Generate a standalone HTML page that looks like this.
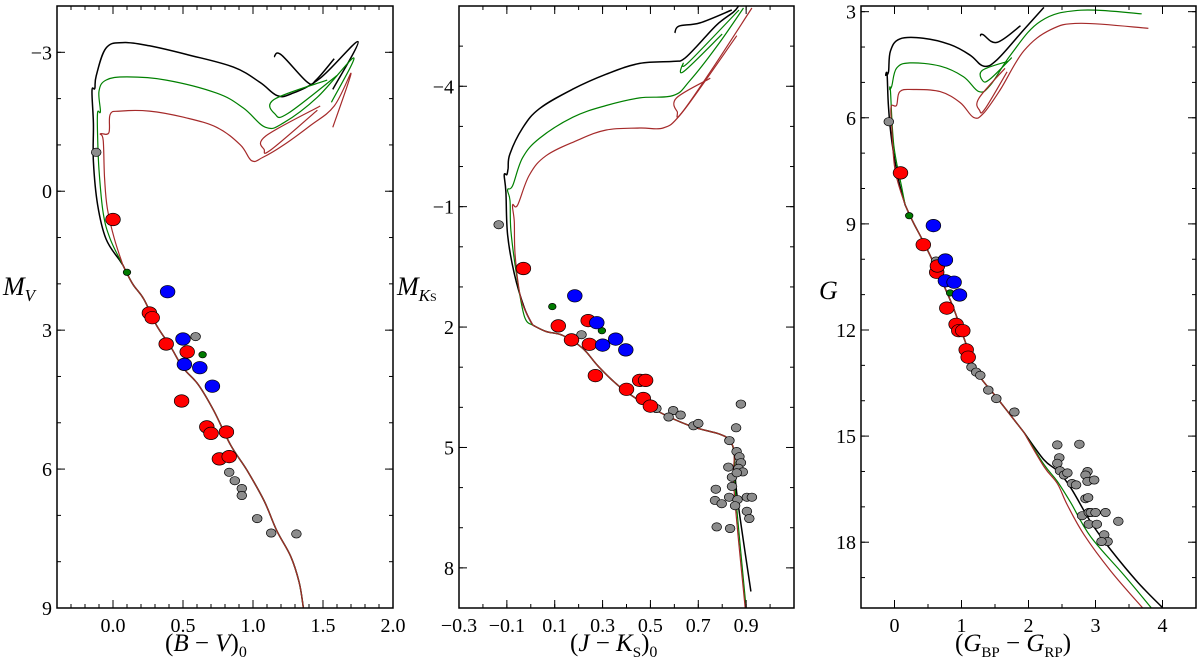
<!DOCTYPE html>
<html><head><meta charset="utf-8"><style>
html,body{margin:0;padding:0;background:#fff;}
svg{display:block;font-family:"Liberation Serif",serif;}
</style></head><body>
<svg id="chart" width="1200" height="669" viewBox="0 0 1200 669" xmlns="http://www.w3.org/2000/svg"></svg>
<script>
// ---------- Panel 1: (B-V)0 vs MV ----------
const p1Red=[[0,0.61],[0.26,2.63],[0.28,2.73],[0.38,3.30],[0.53,3.47],[0.49,4.53],[0.67,5.09],[0.70,5.23],[0.81,5.20],[0.76,5.78],[0.83,5.73]];
const p1Blue=[[0.39,2.17],[0.50,3.19],[0.51,3.74],[0.62,3.81],[0.71,4.21]];
const p1Green=[[0.10,1.75],[0.64,3.53]];
const p1Gray=[[-0.12,-0.84],[0.59,3.14],[0.83,6.07],[0.87,6.25],[0.92,6.42],[0.92,6.57],[1.03,7.07],[1.13,7.38],[1.31,7.40]];
const p1MS=[[1.36,9.0],[1.33,8.45],[1.27,7.89],[1.17,7.33],[1.08,6.69],[0.96,6.04],[0.84,5.48],[0.72,4.74],[0.61,4.18],[0.50,3.81],[0.41,3.35],[0.31,2.89],[0.22,2.33],[0.14,2.00],[0.07,1.59]];
const p1IsoBlack=[[0.07,1.59],[0.05,1.5],[-0.05,1.03],[-0.11,0.29],[-0.14,-0.64],[-0.14,-1.47],[-0.15,-2.17],[-0.13,-2.22],[-0.12,-2.49],[-0.05,-3.09],[0.07,-3.21],[0.26,-3.14],[0.53,-2.95],[0.86,-2.68],[1.05,-2.35],[1.17,-2.07],[1.27,-2.1],[1.48,-2.44],[1.75,-3.23],[1.57,-2.2]];
const p1LoopBlack=[[1.15,-2.9],[1.2,-2.95],[1.39,-2.35],[1.45,-2.4],[1.58,-2.86]];
const p1IsoGreen=[[0.07,1.59],[-0.02,1.03],[-0.07,0.47],[-0.10,-0.46],[-0.11,-1.2],[-0.11,-1.7],[-0.09,-1.72],[-0.1,-2.16],[-0.05,-2.4],[0.1,-2.47],[0.38,-2.4],[0.74,-2.12],[0.93,-1.8],[1.09,-1.38],[1.22,-1.48],[1.46,-2.03],[1.72,-2.88],[1.56,-1.92]];
const p1LoopGreen=[[1.53,-2.4],[1.15,-1.98],[1.16,-1.66],[1.25,-1.68],[1.60,-2.5]];
const p1IsoRed=[[0.07,1.59],[0.01,1.03],[-0.04,0.38],[-0.06,-0.27],[-0.07,-1.1],[-0.09,-1.24],[-0.03,-1.26],[-0.02,-1.66],[0.05,-1.73],[0.26,-1.73],[0.5,-1.6],[0.74,-1.38],[0.91,-1.0],[0.99,-0.66],[1.07,-0.73],[1.22,-1.0],[1.41,-1.42],[1.58,-1.84],[1.70,-2.54],[1.57,-1.38]];
const p1LoopRed=[[1.48,-1.84],[1.09,-1.19],[1.08,-0.9],[1.13,-0.9],[1.46,-1.75]];
// ---------- Panel 2: (J-Ks)0 vs MKs ----------
const p2Red=[[-0.031,0.54],[0.115,1.97],[0.17,2.32],[0.24,1.84],[0.245,2.43],[0.27,3.21],[0.40,3.55],[0.455,3.33],[0.48,3.33],[0.47,3.78],[0.50,3.97]];
const p2Blue=[[0.184,1.22],[0.276,1.89],[0.30,2.45],[0.355,2.30],[0.397,2.57]];
const p2Green=[[0.09,1.49],[0.297,2.09]];
const p2Gray=[[-0.134,-0.55],[0.212,2.19],[0.525,4.03],[0.595,4.08],[0.626,4.19],[0.576,4.24],[0.68,4.46],[0.70,4.40],[0.878,3.92],[0.858,4.51],[0.83,4.83],[0.86,5.10],[0.872,5.23],[0.878,5.38],[0.868,5.52],[0.826,5.49],[0.886,5.61],[0.841,5.74],[0.861,5.63],[0.841,5.97],[0.773,6.04],[0.77,6.32],[0.798,6.40],[0.829,6.24],[0.864,6.30],[0.854,6.45],[0.903,6.24],[0.924,6.24],[0.903,6.59],[0.913,6.77],[0.777,6.98],[0.833,7.02]];
const p2MSBlack=[[0.92,8.59],[0.86,6.11],[0.85,5.15],[0.83,4.83],[0.79,4.67],[0.665,4.46],[0.525,4.08],[0.385,3.55],[0.287,3.01],[0.217,2.53],[0.134,2.21],[0.064,2.11],[0.008,1.95]];
const p2MSGreen=[[0.90,9.0],[0.855,6.11],[0.85,5.15],[0.83,4.83],[0.79,4.67],[0.665,4.46],[0.525,4.08],[0.385,3.55],[0.287,3.01],[0.217,2.53],[0.134,2.21],[0.064,2.11],[0.008,1.95]];
const p2MSRed=[[0.896,9.0],[0.85,6.11],[0.85,5.15],[0.83,4.83],[0.79,4.67],[0.665,4.46],[0.525,4.08],[0.385,3.55],[0.287,3.01],[0.217,2.53],[0.134,2.21],[0.064,2.11],[0.008,1.95]];
const p2IsoBlack=[[0.008,1.95],[-0.027,1.52],[-0.069,0.67],[-0.097,-0.30],[-0.104,-1.36],[-0.111,-1.79],[-0.1,-1.8],[-0.095,-1.95],[-0.087,-2.32],[-0.034,-2.96],[0.036,-3.44],[0.176,-3.93],[0.315,-4.30],[0.455,-4.57],[0.595,-4.62],[0.637,-4.67],[0.693,-4.99],[0.777,-5.53],[0.847,-5.85],[0.868,-6.0]];
const p2LoopBlack=[[0.602,-5.33],[0.62,-5.5],[0.707,-5.58],[0.84,-5.9]];
const p2IsoGreen=[[0.008,1.95],[-0.027,1.73],[-0.06,0.67],[-0.083,-0.40],[-0.087,-1.15],[-0.097,-1.42],[-0.076,-1.52],[-0.034,-2.22],[0.036,-2.70],[0.176,-3.23],[0.315,-3.52],[0.455,-3.71],[0.595,-3.77],[0.665,-4.14],[0.777,-4.99],[0.889,-5.95]];
const p2LoopGreen=[[0.80,-5.3],[0.64,-4.37],[0.637,-4.57],[0.66,-4.6],[0.87,-5.9]];
const p2IsoRed=[[0.008,1.95],[-0.041,1.30],[-0.065,0.23],[-0.069,-0.62],[-0.076,-1.04],[-0.055,-1.04],[-0.006,-1.79],[0.064,-2.27],[0.19,-2.64],[0.315,-2.91],[0.455,-2.96],[0.553,-2.96],[0.623,-3.28],[0.749,-4.35],[0.924,-5.95]];
const p2LoopRed=[[0.75,-4.2],[0.609,-3.71],[0.612,-3.37],[0.64,-3.4],[0.861,-5.26]];
// ---------- Panel 3: (GBP-GRP) vs G ----------
const p3Red=[[0.09,7.56],[0.43,9.59],[0.63,10.37],[0.64,10.19],[0.78,11.38],[0.92,11.84],[0.96,12.02],[1.02,12.02],[1.07,12.56],[1.10,12.77]];
const p3Blue=[[0.58,9.05],[0.76,10.02],[0.76,10.61],[0.89,10.65],[0.97,11.01]];
const p3Green=[[0.22,8.77],[0.83,10.95]];
const p3Gray=[[-0.085,6.11],[0.62,10.05],[1.15,13.05],[1.22,13.19],[1.28,13.28],[1.40,13.70],[1.52,13.94],[1.79,14.32],[2.43,15.25],[2.76,15.23],[2.46,15.61],[2.43,15.77],[2.47,15.98],[2.53,16.1],[2.58,16.04],[2.65,16.34],[2.71,16.38],[2.88,16.0],[2.85,16.1],[2.88,16.28],[2.98,16.24],[2.85,16.77],[2.89,16.74],[2.80,17.25],[2.90,17.16],[2.93,17.16],[3.0,17.16],[3.15,17.16],[2.90,17.49],[3.02,17.49],[3.34,17.41],[3.13,17.79],[3.18,17.98],[3.09,17.98]];
const p3MSShared=[[1.93,14.89],[1.53,13.92],[1.23,13.19],[1.06,12.35],[0.88,11.38],[0.63,10.29],[0.43,9.50],[0.28,8.96],[0.16,8.47]];
const p3LowBlack=[[4.0,19.85],[3.63,19.13],[3.23,18.22],[2.93,17.43],[2.63,16.46],[2.43,15.98],[2.23,15.67],[1.93,14.89]];
const p3LowGreen=[[3.83,19.85],[3.43,18.94],[2.93,17.85],[2.63,16.88],[2.43,16.28],[2.23,15.80],[1.93,14.89]];
const p3LowRed=[[3.70,19.85],[3.23,18.82],[2.83,17.79],[2.58,16.95],[2.43,16.34],[2.23,15.86],[1.93,14.89]];
const p3IsoBlack=[[0.16,8.47],[0.06,7.75],[-0.04,6.66],[-0.09,5.69],[-0.11,4.78],[-0.13,4.8],[-0.09,4.7],[-0.06,4.11],[0.08,3.77],[0.43,3.75],[0.83,3.93],[1.13,4.23],[1.33,4.54],[1.53,4.36],[1.93,3.51],[2.23,2.88]];
const p3LoopBlack=[[1.28,3.69],[1.32,3.65],[1.53,3.87],[1.88,3.4]];
const p3IsoGreen=[[0.16,8.47],[0.11,7.99],[-0.01,6.78],[-0.06,5.26],[-0.07,5.2],[-0.04,5.1],[0.03,4.6],[0.23,4.45],[0.68,4.54],[1.03,4.84],[1.26,5.26],[1.43,5.08],[1.73,4.23],[2.18,3.27],[2.78,2.96],[3.69,3.06]];
const p3LoopGreen=[[1.70,4.4],[1.31,4.66],[1.32,4.96],[1.43,4.9],[1.75,4.3]];
const p3IsoRed=[[0.16,8.47],[0.01,7.50],[-0.04,6.29],[-0.05,5.69],[0.03,5.65],[0.08,5.26],[0.28,5.20],[0.68,5.26],[0.98,5.57],[1.18,5.99],[1.33,5.87],[1.58,5.20],[1.93,4.11],[2.33,3.51],[2.78,3.33],[3.79,3.47]];
const p3LoopRed=[[1.65,4.6],[1.26,5.45],[1.27,5.79],[1.35,5.75],[1.68,4.7]];

const p1XTicks=[0,0.5,1.0,1.5,2.0];
const p1XLabels=["0.0","0.5","1.0","1.5","2.0"];
const p1YTicks=[-3,0,3,6,9];
const p2XTicks=[-0.3,-0.1,0.1,0.3,0.5,0.7,0.9];
const p2XLabels=["\u22120.3","\u22120.1","0.1","0.3","0.5","0.7","0.9"];
const p2YTicks=[-4,-1,2,5,8];
const p3XTicks=[0,1,2,3,4];
const p3XLabels=["0","1","2","3","4"];
const p3YTicks=[3,6,9,12,15,18];

const NS="http://www.w3.org/2000/svg";
const svg=document.getElementById('chart');
function mk(tag,attrs,parent){const e=document.createElementNS(NS,tag);for(const k in attrs)e.setAttribute(k,attrs[k]);(parent||svg).appendChild(e);return e;}
function smoothPath(pts){
  if(pts.length<3)return pts.map((p,i)=>(i?'L':'M')+p[0].toFixed(1)+' '+p[1].toFixed(1)).join('');
  let d='M'+pts[0][0].toFixed(1)+' '+pts[0][1].toFixed(1);
  const t=0.18;
  for(let i=0;i<pts.length-1;i++){
    const p0=pts[i-1]||pts[i],p1=pts[i],p2=pts[i+1],p3=pts[i+2]||p2;
    const c1=[p1[0]+(p2[0]-p0[0])*t,p1[1]+(p2[1]-p0[1])*t];
    const c2=[p2[0]-(p3[0]-p1[0])*t,p2[1]-(p3[1]-p1[1])*t];
    d+='C'+c1[0].toFixed(1)+' '+c1[1].toFixed(1)+' '+c2[0].toFixed(1)+' '+c2[1].toFixed(1)+' '+p2[0].toFixed(1)+' '+p2[1].toFixed(1);
  }
  return d;
}
function panel(cfg){
  const g=mk('g',{});
  
  
  const sx=v=>cfg.x0+(v-cfg.xmin)/(cfg.xmax-cfg.xmin)*(cfg.x1-cfg.x0);
  const sy=v=>cfg.y0+(v-cfg.ymin)/(cfg.ymax-cfg.ymin)*(cfg.y1-cfg.y0);
  const clip='clip-'+cfg.name;
  const cp=mk('clipPath',{id:clip},g);
  mk('rect',{x:cfg.x0,y:cfg.y0,width:cfg.x1-cfg.x0,height:cfg.y1-cfg.y0},cp);
  const data=mk('g',{'clip-path':'url(#'+clip+')'},g);
  cfg.lines.forEach(([arr,col,w,nm])=>{
    const p=mk('path',{d:smoothPath(arr.map(q=>[sx(q[0]),sy(q[1])])),fill:'none',stroke:col,'stroke-width':w,'stroke-linejoin':'round'},data);
    
    
  });
  cfg.points.forEach(([arr,col,r,nm])=>{
    arr.forEach(q=>{
      const c=mk('ellipse',{cx:sx(q[0]).toFixed(1),cy:sy(q[1]).toFixed(1),rx:r*1.08,ry:r*0.92,fill:col,stroke:'#000','stroke-width':0.7},data);
      
      
    });
  });
  const tg=mk('g',{stroke:'#000','stroke-width':1},g);
  for(let v=cfg.xminorStart;v<=cfg.xmax+1e-9;v+=cfg.xminor){const x=sx(v);mk('line',{x1:x,x2:x,y1:cfg.y1,y2:cfg.y1-4},tg);mk('line',{x1:x,x2:x,y1:cfg.y0,y2:cfg.y0+4},tg);}
  for(let v=Math.ceil(cfg.ymin);v<=cfg.ymax+1e-9;v+=1){const y=sy(v);mk('line',{x1:cfg.x0,x2:cfg.x0+4,y1:y,y2:y},tg);mk('line',{x1:cfg.x1,x2:cfg.x1-4,y1:y,y2:y},tg);}
  cfg.xt.forEach((v,i)=>{const x=sx(v);mk('line',{x1:x,x2:x,y1:cfg.y1,y2:cfg.y1-8},tg);mk('line',{x1:x,x2:x,y1:cfg.y0,y2:cfg.y0+8},tg);
    const t=mk('text',{x:x,y:632,'text-anchor':'middle','font-size':20},g);t.textContent=cfg.xl[i];
    
    });
  cfg.yt.forEach(v=>{const y=sy(v);mk('line',{x1:cfg.x0,x2:cfg.x0+8,y1:y,y2:y},tg);mk('line',{x1:cfg.x1,x2:cfg.x1-8,y1:y,y2:y},tg);
    const t=mk('text',{x:cfg.x0-5,y:y+7,'text-anchor':'end','font-size':20},g);t.textContent=v<0?'\u2212'+(-v):String(v);
    
    });
  const fr=mk('rect',{x:cfg.x0,y:cfg.y0,width:cfg.x1-cfg.x0,height:cfg.y1-cfg.y0,fill:'none',stroke:'#000','stroke-width':1.5},g);
  
  
}
const BK='#000',GR='#008000',RD='#a52a2a';
panel({name:'panel-bv-mv',x0:57,x1:393,y0:6,y1:608,xmin:-0.4,xmax:2.0,ymin:-4,ymax:9,xminor:0.1,xminorStart:-0.4,xt:p1XTicks,xl:p1XLabels,yt:p1YTicks,
  lines:[[p1MS,BK,1.5,'isochrone-black'],[p1IsoBlack,BK,1.5,'isochrone-black'],[p1LoopBlack,BK,1.5,'isochrone-black-loop'],[p1MS,GR,1.2,'isochrone-green'],[p1IsoGreen,GR,1.2,'isochrone-green'],[p1LoopGreen,GR,1.2,'isochrone-green-loop'],[p1MS,RD,1.2,'isochrone-red'],[p1IsoRed,RD,1.2,'isochrone-red'],[p1LoopRed,RD,1.2,'isochrone-red-loop']],
  points:[[p1Gray,'#8c8c8c',4.5,'gray-star'],[p1Green,'#007a00',3.5,'green-star'],[p1Red,'#ff0000',6.8,'red-star'],[p1Blue,'#0000ff',6.8,'blue-star']]});
panel({name:'panel-jk-mk',x0:459,x1:794,y0:6,y1:608,xmin:-0.3,xmax:1.1,ymin:-6,ymax:9,xminor:0.1,xminorStart:-0.3,xt:p2XTicks,xl:p2XLabels,yt:p2YTicks,
  lines:[[p2MSBlack,BK,1.5,'isochrone-black'],[p2IsoBlack,BK,1.5,'isochrone-black'],[p2LoopBlack,BK,1.5,'isochrone-black-loop'],[p2MSGreen,GR,1.2,'isochrone-green'],[p2IsoGreen,GR,1.2,'isochrone-green'],[p2LoopGreen,GR,1.2,'isochrone-green-loop'],[p2MSRed,RD,1.2,'isochrone-red'],[p2IsoRed,RD,1.2,'isochrone-red'],[p2LoopRed,RD,1.2,'isochrone-red-loop']],
  points:[[p2Gray,'#8c8c8c',4.5,'gray-star'],[p2Green,'#007a00',3.5,'green-star'],[p2Red,'#ff0000',6.8,'red-star'],[p2Blue,'#0000ff',6.8,'blue-star']]});
panel({name:'panel-bprp-g',x0:861,x1:1196,y0:6,y1:608,xmin:-0.5,xmax:4.5,ymin:2.84,ymax:19.86,xminor:0.5,xminorStart:-0.5,xt:p3XTicks,xl:p3XLabels,yt:p3YTicks,
  lines:[[p3MSShared,BK,1.5,'isochrone-black'],[p3LowBlack,BK,1.5,'isochrone-black'],[p3IsoBlack,BK,1.5,'isochrone-black'],[p3LoopBlack,BK,1.5,'isochrone-black-loop'],[p3MSShared,GR,1.2,'isochrone-green'],[p3LowGreen,GR,1.2,'isochrone-green'],[p3IsoGreen,GR,1.2,'isochrone-green'],[p3LoopGreen,GR,1.2,'isochrone-green-loop'],[p3MSShared,RD,1.2,'isochrone-red'],[p3LowRed,RD,1.2,'isochrone-red'],[p3IsoRed,RD,1.2,'isochrone-red'],[p3LoopRed,RD,1.2,'isochrone-red-loop']],
  points:[[p3Gray,'#8c8c8c',4.5,'gray-star'],[p3Green,'#007a00',3.5,'green-star'],[p3Red,'#ff0000',6.8,'red-star'],[p3Blue,'#0000ff',6.8,'blue-star']]});
</script>
<div style="position:absolute;left:0;top:0;width:1200px;height:669px;pointer-events:none;font-family:'Liberation Serif',serif;">
  <div style="position:absolute;left:3px;top:272px;font-size:26px;font-style:italic;">M<sub style="font-size:17px;">V</sub></div>
  <div style="position:absolute;left:397px;top:272px;font-size:26px;font-style:italic;">M<sub style="font-size:17px;">K<span style="font-style:normal;font-size:12px;">S</span></sub></div>
  <div style="position:absolute;left:819px;top:276px;font-size:26px;font-style:italic;">G</div>
  <div style="position:absolute;left:165px;top:630px;font-size:25px;">(<i>B</i> − <i>V</i>)<sub style="font-size:16px;">0</sub></div>
  <div style="position:absolute;left:570px;top:630px;font-size:25px;">(<i>J</i> − <i>K</i><sub style="font-size:15px;">S</sub>)<sub style="font-size:16px;">0</sub></div>
  <div style="position:absolute;left:955px;top:630px;font-size:25px;">(<i>G</i><sub style="font-size:15px;">BP</sub> − <i>G</i><sub style="font-size:15px;">RP</sub>)</div>
</div>
</body></html>
